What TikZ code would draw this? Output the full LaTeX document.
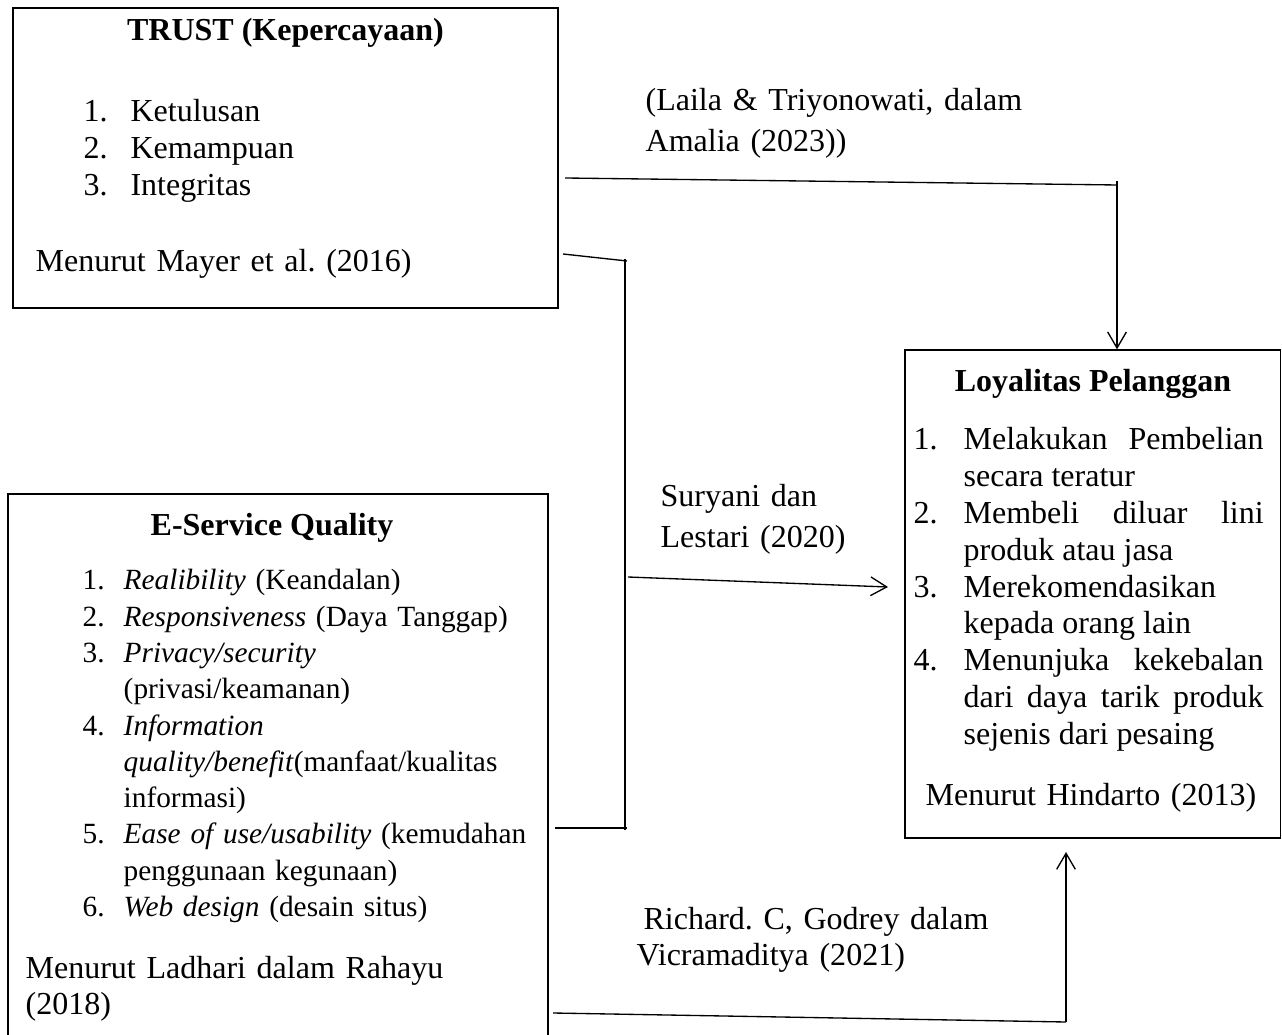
\documentclass[tikz,border=0pt]{standalone}
\usepackage{fontspec}
\setmainfont{Liberation Serif}
\usetikzlibrary{calc,fit,arrows.meta}
\newlength{\itmind}
\newcommand{\itm}[2]{\hangindent=\itmind\hangafter=1\noindent\makebox[\itmind][l]{#1}#2\par}

\begin{document}
\begin{tikzpicture}[x=0.375pt,y=-0.375pt,line width=.5pt,
    box/.style={draw,inner sep=0pt,fit={#1}},
    txt/.style={inner sep=0pt,anchor=base west,text width=#1,align=left,
      font=\fontsize{12}{13.8}\selectfont\frenchspacing},
    ttl/.style={inner sep=0pt,anchor=base,font=\fontsize{12}{13.8}\selectfont\bfseries},
    lst/.style 2 args={txt=#1,execute at begin node={\setlength{\itmind}{#2}\hyphenpenalty=10000}},
    arr/.style={-{Straight Barb[length=6pt,width=7pt]}}]
    \useasboundingbox (0,0) rectangle (1282,1035);

    \node[box={(13,8) (558,308)}] (trust) {};
    \node[box={(905,350) (1280.5,838)}] (loyal) {};
    \node[box={(8,494) (548,1050)}] (esq) {};

    \node[ttl] (trustT) at (285.5,41) {TRUST (Kepercayaan)};
    \node[lst={150pt}{17.6pt}] (trustL) at (83,122)
      {\itm{1.}{Ketulusan}\itm{2.}{Kemampuan}\itm{3.}{Integritas}};
    \node[txt=180pt] (trustS) at (35,272) {Menurut Mayer et al. (2016)};

    \node[ttl] (loyalT) at (1093,392) {Loyalitas Pelanggan};
    \node[lst={131.25pt}{18.75pt},align=justify] (loyalL) at (913,450)
      {\itm{1.}{Melakukan Pembelian\linebreak secara teratur}
       \itm{2.}{Membeli diluar lini\linebreak produk atau jasa}
       \itm{3.}{Merekomendasikan\newline kepada orang lain}
       \itm{4.}{Menunjuka kekebalan\linebreak dari daya tarik produk\linebreak sejenis dari pesaing}};
    \node[txt=180pt] (loyalS) at (925,805) {Menurut Hindarto (2013)};

    \node[ttl] (esqT) at (272,536) {E-Service Quality};
    \node[lst={175pt}{15.4pt},font=\fontsize{11}{13.6}\selectfont] (esqL) at (82,590)
      {\itm{1.}{\textit{Realibility} (Keandalan)}
       \itm{2.}{\textit{Responsiveness} (Daya Tanggap)}
       \itm{3.}{\textit{Privacy/security}\newline(privasi/keamanan)}
       \itm{4.}{\textit{Information}\newline\textit{quality/benefit}(manfaat/kualitas\newline informasi)}
       \itm{5.}{\textit{Ease of use/usability} (kemudahan\newline penggunaan kegunaan)}
       \itm{6.}{\textit{Web design} (desain situs)}};
    \node[txt=250pt] (esqS) at (25,978) {Menurut Ladhari dalam Rahayu\newline(2018)};

    \node[txt=170pt,font=\fontsize{12}{15.2}\selectfont\frenchspacing] (lab1) at (645,111)
      {(Laila \& Triyonowati, dalam\newline Amalia (2023))};
    \node[txt=120pt,font=\fontsize{12}{15.2}\selectfont\frenchspacing] (lab2) at (660,507)
      {Suryani dan\newline Lestari (2020)};
    \node[txt=170pt] (lab3) at (636,929) {\hspace*{2.6pt}Richard. C, Godrey dalam\newline Vicramaditya (2021)};

    \coordinate (t1) at (565,178);
    \coordinate (c1) at (1117,185);
    \coordinate (t2) at (563,254);
    \coordinate (c2) at (627,261);
    \coordinate (b2) at (625,830);
    \coordinate (e2) at (555,828);
    \coordinate (m2) at (628,577);
    \coordinate (a2) at (888,587);
    \coordinate (e3) at (553,1013);
    \coordinate (c3) at (1066,1022);
    \coordinate (a3) at (1066,852);

    \draw (t1) -- (c1);
    \draw[arr] ($(c1)+(0,-4)$) -- (c1 |- loyal.north);
    \draw (t2) -- (c2);
    \draw ($(c2)+(-2,-2)$) -- (b2);
    \draw (e2) -- ($(b2)+(2,-2)$);
    \draw[arr] (m2) -- (a2);
    \draw (e3) -- (c3);
    \draw[arr] (c3) -- (a3);
\end{tikzpicture}
\end{document}
